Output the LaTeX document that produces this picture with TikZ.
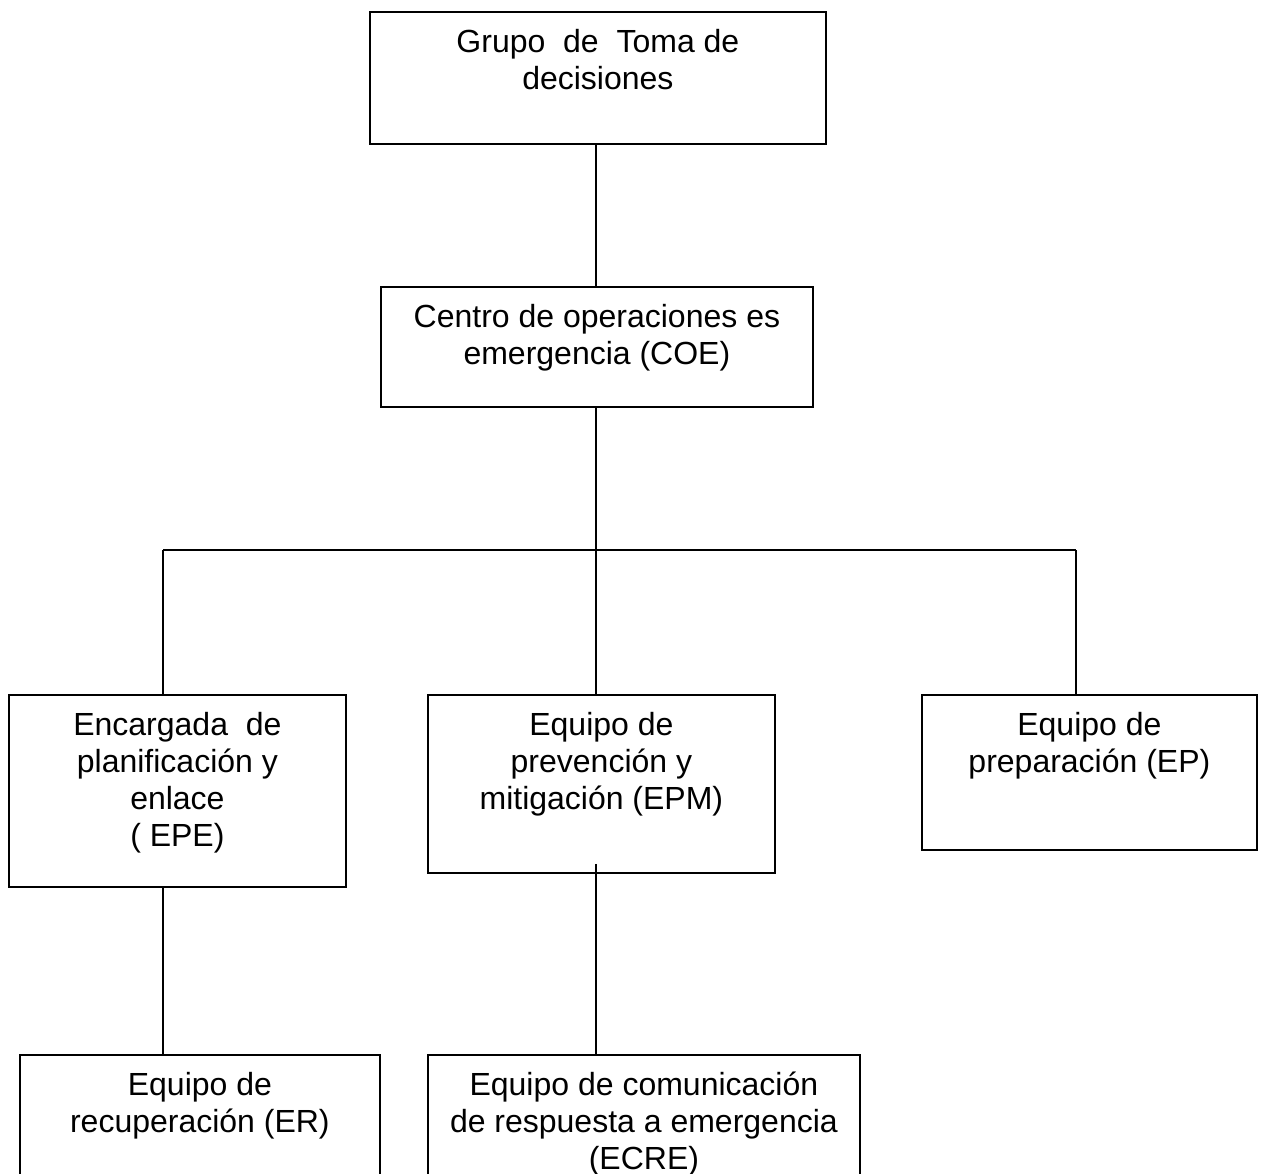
\documentclass[tikz,border=0pt]{standalone}
\usepackage{fontspec}
\setmainfont{Liberation Sans}
\newcommand{\orgtext}[3]{\parbox[t][#2pt][t]{#1pt}{\centering\rule{0pt}{41pt}#3}}
\tikzset{
  orgbox/.style={draw, line width=1.8pt, inner sep=0pt, anchor=north west,
    font=\fontsize{32}{37}\selectfont},
  link/.style={line width=1.8pt},
}
\begin{document}
\begin{tikzpicture}[x=1pt,y=-1pt]
\useasboundingbox (0,0) rectangle (1263,1174);
\node[orgbox] (top) at (369,11) {\orgtext{456}{132}{Grupo\ \ de\ \ Toma de\\decisiones}};
\node[orgbox] (coe) at (380,286) {\orgtext{432}{120}{Centro de operaciones es\\emergencia (COE)}};
\node[orgbox] (epe) at (8,694) {\orgtext{337}{192}{Encargada\ \ de\\planificación y\\enlace\\( EPE)}};
\node[orgbox] (epm) at (427,694) {\orgtext{347}{178}{Equipo de\\prevención y\\mitigación (EPM)}};
\node[orgbox] (ep) at (921,694) {\orgtext{335}{155}{Equipo de\\preparación (EP)}};
\node[orgbox] (er) at (19,1054) {\orgtext{360}{170}{Equipo de\\recuperación (ER)}};
\node[orgbox] (ecre) at (427,1054) {\orgtext{432}{170}{Equipo de comunicación\\de respuesta a emergencia\\(ECRE)}};
\coordinate (jl) at (163,550);
\coordinate (jm) at (596,550);
\coordinate (jr) at (1076,550);
\coordinate (ms) at (jm |- epm.south);
\draw[link] (jm |- top.south) -- (jm |- coe.north);
\draw[link] (jm |- coe.south) -- (jm);
\draw[link] (jl) -- (jr);
\draw[link] (jl) -- (jl |- epe.north);
\draw[link] (jm) -- (jm |- epm.north);
\draw[link] (jr) -- (jr |- ep.north);
\draw[link] (jl |- epe.south) -- (jl |- er.north);
\draw[link] ([yshift=10pt]ms) -- (jm |- ecre.north);
\end{tikzpicture}
\end{document}
